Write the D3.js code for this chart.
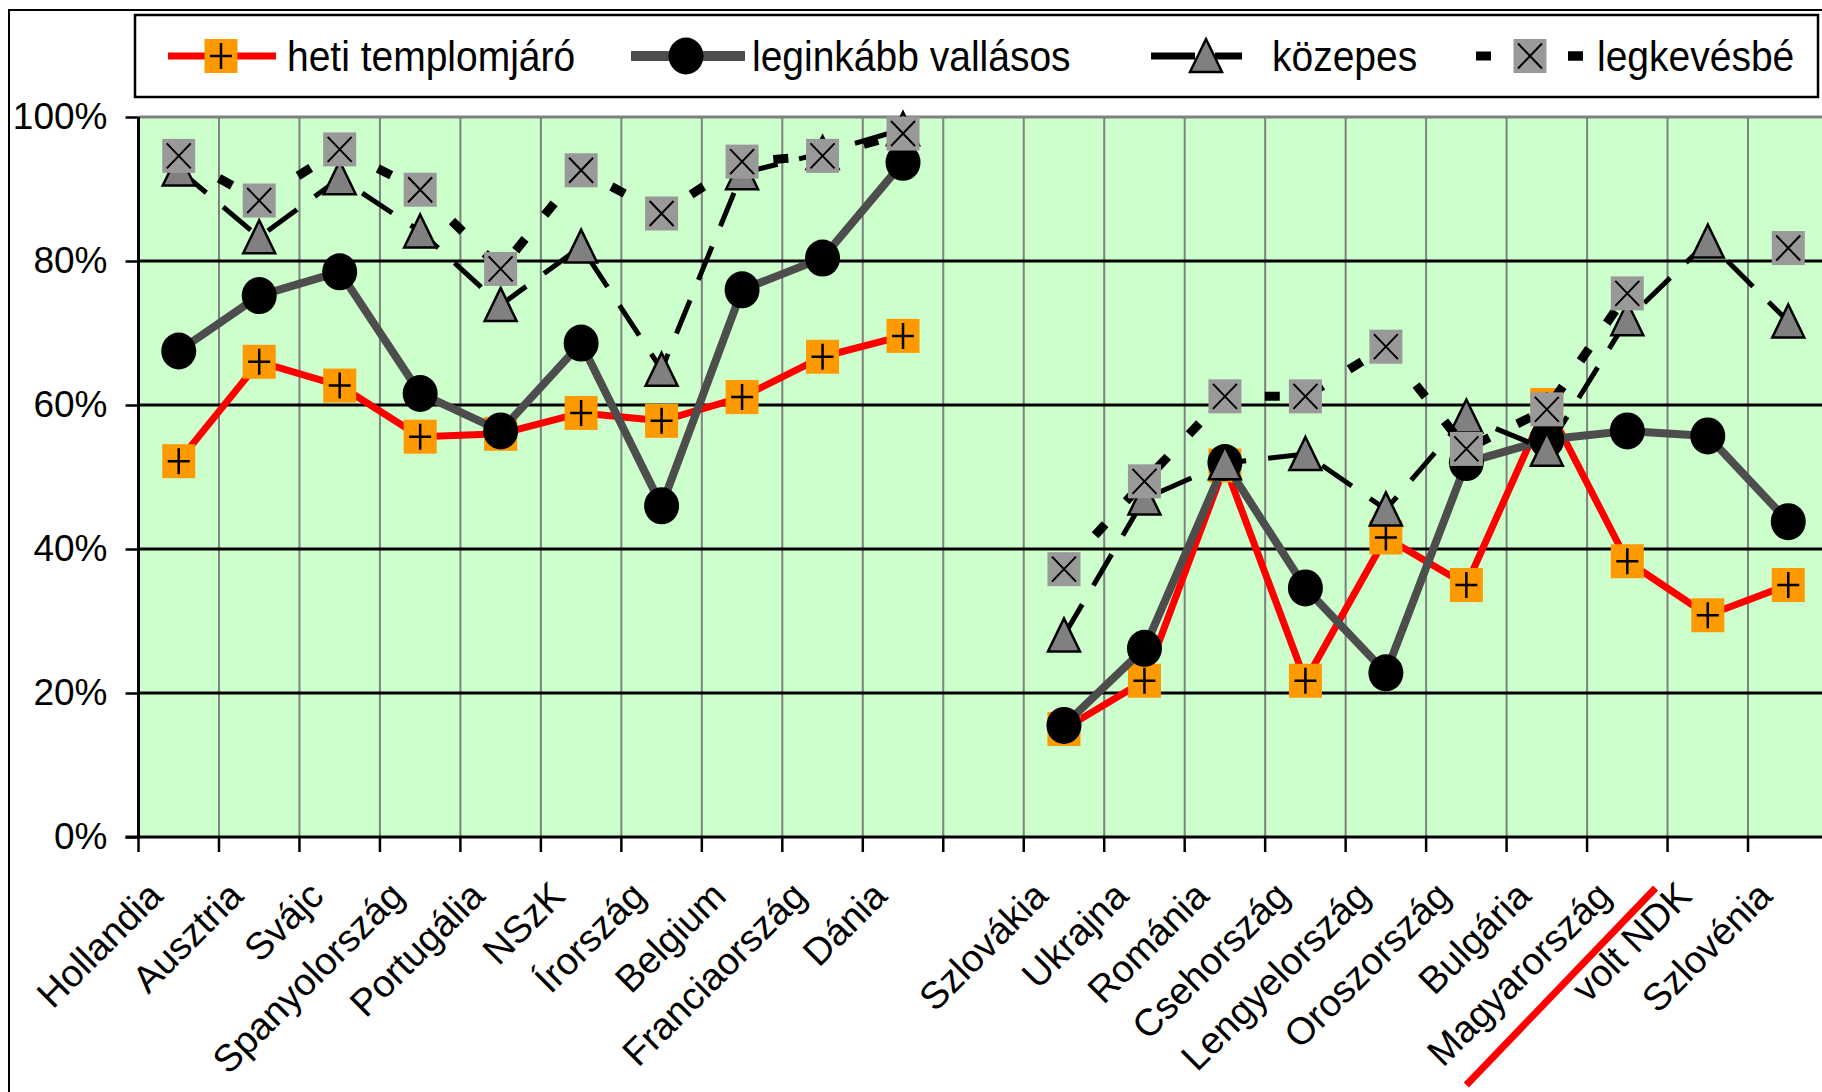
<!DOCTYPE html>
<html>
<head>
<meta charset="utf-8">
<script src="https://cdn.jsdelivr.net/npm/d3@7"></script>
<style>
  body { margin: 0; background: #fff; }
  svg { display: block; font-family: "Liberation Sans", Arial, sans-serif; }
</style>
</head>
<body>
<div id="chart"></div>
<script>
// Countries; the empty entry is the gap between the two groups
const categories = ["Hollandia", "Ausztria", "Svájc", "Spanyolország", "Portugália", "NSzK",
    "Írország", "Belgium", "Franciaország", "Dánia", "",
    "Szlovákia", "Ukrajna", "Románia", "Csehország", "Lengyelország", "Oroszország",
    "Bulgária", "Magyarország", "volt NDK", "Szlovénia"];

// Series values in percent (null = no value)
const hetiTemplomjaro  = [52.2, 66.0, 62.7, 55.6, 56.0, 58.9, 57.8, 61.1, 66.7, 69.6, null,
    15.0, 21.7, 51.6, 21.7, 41.6, 35.0, 60.0, 38.3, 30.8, 35.0];
const leginkabbVallasos = [67.5, 75.2, 78.5, 61.6, 56.4, 68.6, 46.0, 76.0, 80.4, 93.7, null,
    15.5, 26.2, 52.0, 34.6, 22.8, 52.0, 55.2, 56.4, 55.7, 43.8];
const kozepes = [92.7, 83.3, 91.5, 84.1, 73.9, 82.0, 64.9, 92.2, 95.0, 98.3, null,
    28.0, 47.0, 51.9, 53.2, 45.5, 58.4, 53.8, 71.9, 82.7, 71.6];
const legkevesbe = [94.6, 88.4, 95.5, 89.9, 78.9, 92.6, 86.6, 93.8, 94.6, 97.7, null,
    37.2, 49.4, 61.2, 61.2, 68.1, 53.9, 59.4, 75.5, null, 81.8];

const seriesNames = ["heti templomjáró", "leginkább vallásos", "közepes", "legkevésbé"];
const yTicks = [0, 20, 40, 60, 80, 100];

// Canvas and plot area
const width = 1822, height = 1092;
const margin = { top: 117, left: 138.5 };
const plotW = 1690, plotH = 720;

const svg = d3.select("#chart").append("svg")
    .attr("width", width)
    .attr("height", height);

// outer chart border (right and bottom lie outside the picture)
svg.append("rect")
    .attr("x", 9).attr("y", 10)
    .attr("width", width + 40).attr("height", height + 40)
    .attr("fill", "none").attr("stroke", "#000").attr("stroke-width", 2);

const x = d3.scaleBand().domain(categories).range([0, plotW]);
const y = d3.scaleLinear().domain([0, 100]).range([plotH, 0]);
const cx = d => x(d) + x.bandwidth() / 2;

const g = svg.append("g").attr("transform", `translate(${margin.left},${margin.top})`);

// plot background
g.append("rect").attr("width", plotW).attr("height", plotH).attr("fill", "#CCFFCC");

// vertical gridlines on the category boundaries
g.selectAll(".vgrid").data(categories.slice(1)).enter().append("line")
    .attr("x1", d => x(d)).attr("x2", d => x(d))
    .attr("y1", 0).attr("y2", plotH)
    .attr("stroke", "#808080").attr("stroke-width", 2);

// horizontal gridlines
g.selectAll(".hgrid").data(yTicks.filter(t => t > 0 && t < 100)).enter().append("line")
    .attr("x1", 0).attr("x2", plotW)
    .attr("y1", d => y(d)).attr("y2", d => y(d))
    .attr("stroke", "#000").attr("stroke-width", 3);

// top border of the plot area
g.append("line").attr("x1", 0).attr("x2", plotW).attr("y1", y(100)).attr("y2", y(100))
    .attr("stroke", "#808080").attr("stroke-width", 3);

// y axis
const yAxis = g.append("g")
    .call(d3.axisLeft(y).tickValues(yTicks).tickFormat(d => d + "%").tickSize(13).tickPadding(18));
yAxis.select(".domain").remove();
yAxis.selectAll("line").attr("stroke", "#000").attr("stroke-width", 2.5);
yAxis.selectAll("text").attr("font-size", 37).attr("fill", "#000")
    .attr("font-family", "Liberation Sans, Arial, sans-serif");
g.append("line").attr("x1", 0).attr("x2", 0).attr("y1", 0).attr("y2", plotH)
    .attr("stroke", "#000").attr("stroke-width", 3);

// x axis: line, ticks on the boundaries, rotated labels
g.append("line").attr("x1", -13).attr("x2", plotW).attr("y1", plotH).attr("y2", plotH)
    .attr("stroke", "#000").attr("stroke-width", 3);
g.selectAll(".xtick").data(categories).enter().append("line")
    .attr("x1", d => x(d)).attr("x2", d => x(d))
    .attr("y1", plotH).attr("y2", plotH + 15)
    .attr("stroke", "#000").attr("stroke-width", 2.5);
g.selectAll(".xlabel").data(categories).enter().append("text")
    .attr("transform", d => `translate(${cx(d) - 14},${plotH + 61}) rotate(-45)`)
    .attr("text-anchor", "end")
    .attr("font-size", 38)
    .text(d => d);

// marker shapes
function drawMarker(sel, kind) {
    if (kind === "plus") {
        sel.append("rect").attr("x", -16.5).attr("y", -17).attr("width", 33).attr("height", 34)
            .attr("fill", "#FF9900");
        sel.append("path").attr("d", "M-11,0H11M0,-13V13")
            .attr("stroke", "#000").attr("stroke-width", 2.5);
    } else if (kind === "circle") {
        sel.append("ellipse").attr("rx", 17.5).attr("ry", 18.5).attr("fill", "#000");
    } else if (kind === "triangle") {
        sel.append("path").attr("d", "M0,-17L16,16L-16,16Z")
            .attr("fill", "#808080").attr("stroke", "#000").attr("stroke-width", 2.5)
            .attr("stroke-linejoin", "miter");
    } else if (kind === "xsquare") {
        sel.append("rect").attr("x", -16.5).attr("y", -17).attr("width", 33).attr("height", 34)
            .attr("fill", "#999999");
        sel.append("path").attr("d", "M-12,-12.5L12,12.5M12,-12.5L-12,12.5")
            .attr("stroke", "#000").attr("stroke-width", 2);
    }
}

const series = [
    { name: seriesNames[0], values: hetiTemplomjaro, color: "#FF0000", w: 7, dash: null, marker: "plus" },
    { name: seriesNames[1], values: leginkabbVallasos, color: "#4d4d4d", w: 8, dash: null, marker: "circle" },
    { name: seriesNames[2], values: kozepes, color: "#000", w: 5, dash: "36,22", marker: "triangle" },
    { name: seriesNames[3], values: legkevesbe, color: "#000", w: 9, dash: "15,31", marker: "xsquare" }
];

const line = d3.line()
    .defined(d => d.v != null)
    .x(d => cx(d.c))
    .y(d => y(d.v));

series.forEach(s => {
    const pts = categories.map((c, i) => ({ c: c, v: s.values[i] }));
    g.append("path")
        .datum(pts)
        .attr("d", line)
        .attr("fill", "none")
        .attr("stroke", s.color)
        .attr("stroke-width", s.w)
        .attr("stroke-dasharray", s.dash)
        .attr("stroke-linejoin", "round");
    g.selectAll(null).data(pts.filter(p => p.v != null)).enter().append("g")
        .attr("transform", p => `translate(${cx(p.c)},${y(p.v)})`)
        .each(function() { drawMarker(d3.select(this), s.marker); });
});

// red annotation stroke across the labels
g.append("line")
    .attr("x1", cx("Oroszország")).attr("y1", plotH + 248)
    .attr("x2", x("volt NDK") - 12).attr("y2", plotH + 51)
    .attr("stroke", "#FF0000").attr("stroke-width", 7);

// legend
const legend = svg.append("g");
legend.append("rect")
    .attr("x", 135).attr("y", 15).attr("width", 1683).attr("height", 82)
    .attr("fill", "#fff").attr("stroke", "#000").attr("stroke-width", 2.5);

const legendPos = [
    { x1: 168, x2: 276, mx: 221, tx: 287 },
    { x1: 631, x2: 745, mx: 686, tx: 752 },
    { x1: 1151, x2: 1242, mx: 1206, tx: 1272 },
    { x1: 1476, x2: 1583, mx: 1530, tx: 1597 }
];
const ly = 56;

series.forEach((s, i) => {
    const p = legendPos[i];
    legend.append("line")
        .attr("x1", p.x1).attr("x2", p.x2).attr("y1", ly).attr("y2", ly)
        .attr("stroke", s.color)
        .attr("stroke-width", i === 2 ? 7 : (i === 1 ? 10 : s.w))
        .attr("stroke-dasharray", i === 3 ? "15,77" : (i === 2 ? "44,20" : null));
    if (i === 3) {
        legend.append("line")
            .attr("x1", p.x2 - 15).attr("x2", p.x2).attr("y1", ly).attr("y2", ly)
            .attr("stroke", "#000").attr("stroke-width", 9);
    }
    drawMarker(legend.append("g").attr("transform", `translate(${p.mx},${ly})`), s.marker);
    legend.append("text")
        .attr("transform", `translate(${p.tx},${ly + 15}) scale(1,1.08)`)
        .attr("font-size", 39)
        .text(s.name);
});
</script>
</body>
</html>
